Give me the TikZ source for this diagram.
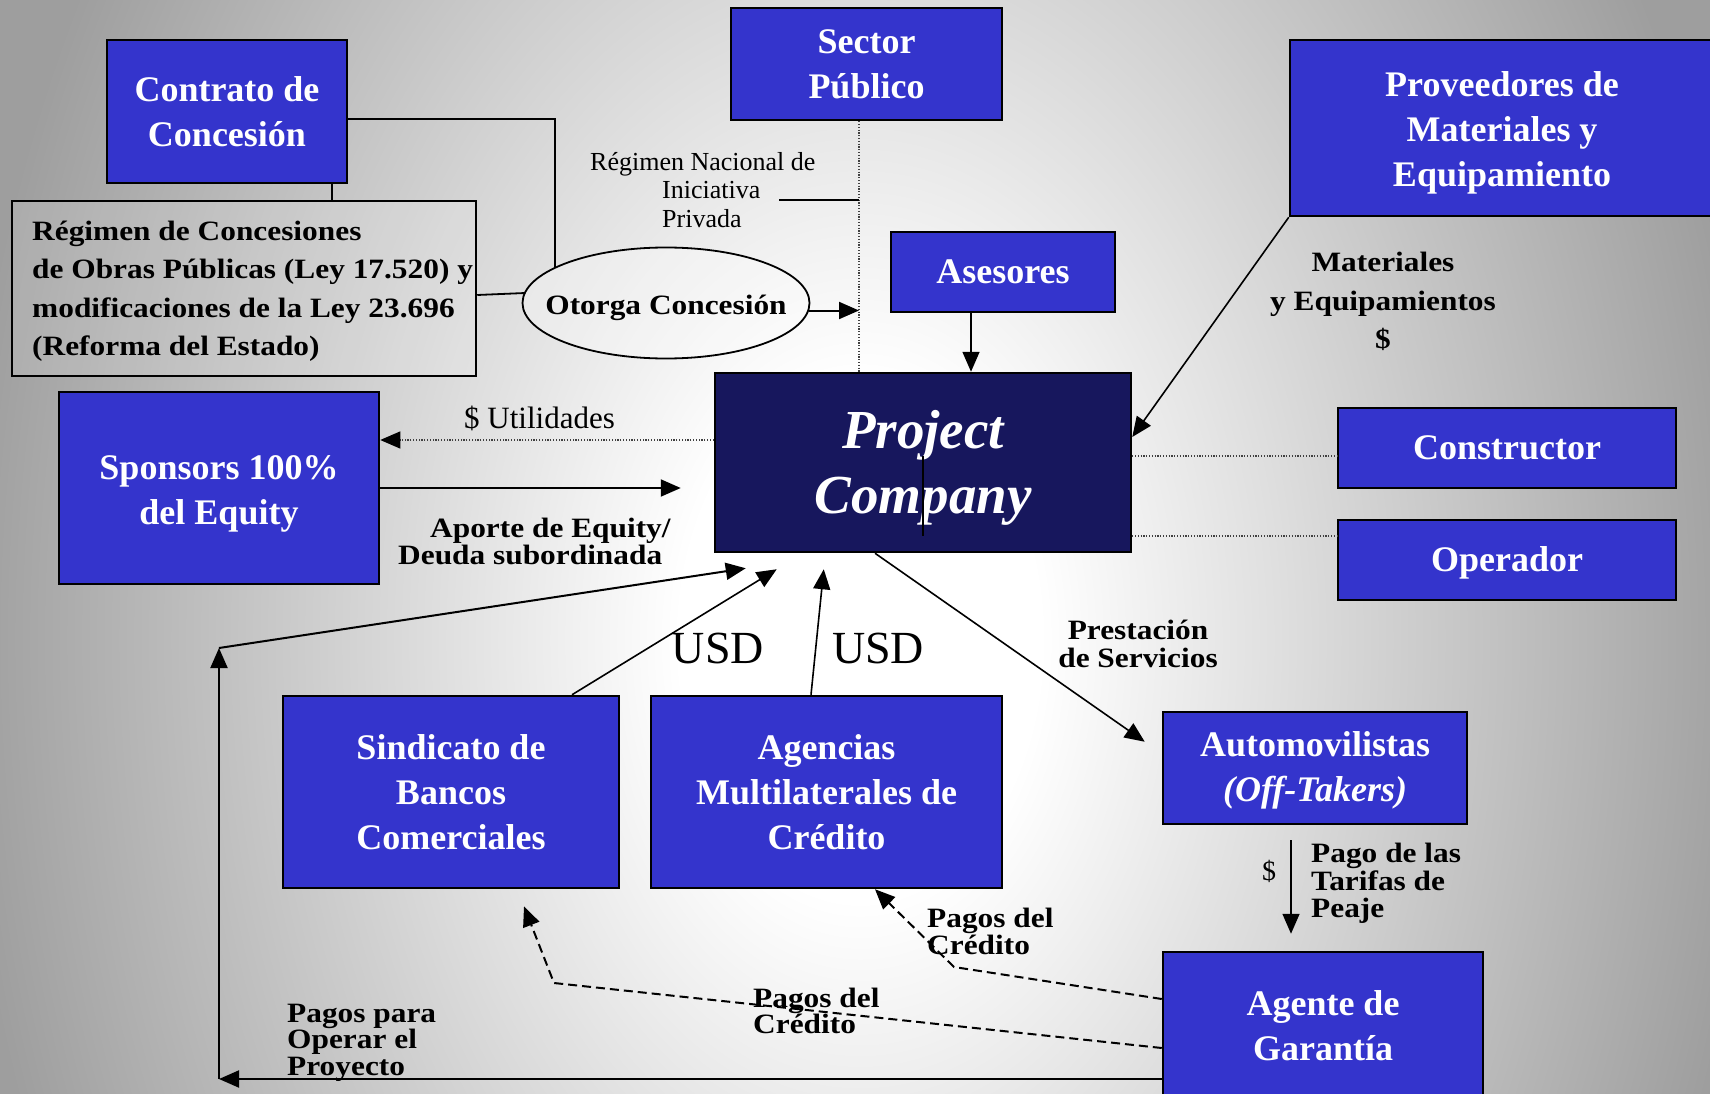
\documentclass[tikz,border=0pt]{standalone}
\usepackage{fontspec}
\setmainfont{Liberation Serif}
\newfontfamily\labfont{Liberation Serif}[FakeStretch=1.12]
\usetikzlibrary{arrows.meta,shapes.geometric,calc}
\definecolor{boxblue}{RGB}{52,52,204}
\definecolor{pcnavy}{RGB}{23,23,93}
\definecolor{bgouter}{gray}{0.62}
\pgfdeclareradialshading{bgshade}{\pgfpoint{0bp}{0bp}}{color(0bp)=(white); color(5bp)=(white); color(25bp)=(bgouter); color(50bp)=(bgouter)}
\begin{document}
\lineskiplimit=-100pt
\begin{tikzpicture}[x=1pt,y=-1pt,
  bluebox/.style={draw=black, line width=2.5pt, fill=boxblue, text=white,
    font=\fontsize{36}{45}\selectfont\bfseries, align=center, inner sep=0pt},
  graybox/.style={draw=black, line width=2.5pt, fill=white, fill opacity=0.14, text opacity=1, inner sep=0pt},
  lbl/.style={font=\labfont\bfseries\fontsize{28}{27.5}\selectfont, inner sep=0pt, text=black},
  reg/.style={inner sep=0pt, text=black},
  arr/.style={line width=2pt, -{Triangle[length=20pt,width=17pt]}},
  thinarr/.style={line width=1.6pt, -{Triangle[length=20pt,width=17pt]}},
  dotline/.style={line width=1.2pt, black!75, dash pattern=on 1.2pt off 1.6pt},
  dotarr/.style={dotline, -{Triangle[length=20pt,width=17pt,color=black]}},
  dasharr/.style={line width=2pt, dash pattern=on 9pt off 5pt, -{Triangle[length=20pt,width=17pt]}},
  conn/.style={line width=1.8pt}
]
\useasboundingbox (0,0) rectangle (1710,1094);
\clip (0,0) rectangle (1710,1094);
\shade[shading=bgshade] (-40,-660) rectangle (1760,1940);

% boxes
\node[bluebox, minimum width=240pt, minimum height=143pt] (contrato) at (227,111.5) {Contrato de\\Concesión};
\node[bluebox, minimum width=271pt, minimum height=112pt] (sector) at (866.5,64) {Sector\\Público};
\node[bluebox, minimum width=424pt, minimum height=176pt] (prov) at (1502,128) {\rule{0pt}{34pt}Proveedores de\\Materiales y\\Equipamiento};
\node[bluebox, minimum width=224pt, minimum height=80pt] (asesores) at (1003,272) {Asesores};
\node[bluebox, fill=pcnavy, minimum width=416pt, minimum height=179pt,
  font=\fontsize{55}{65}\selectfont\bfseries\itshape] (pc) at (923,462.5) {\rule{0pt}{48pt}Project\\Company};
\node[bluebox, minimum width=320pt, minimum height=192pt] (sponsors) at (219,488) {\rule{0pt}{36pt}Sponsors 100\%\\del Equity};
\node[bluebox, minimum width=338pt, minimum height=80pt] (constructor) at (1507,448) {Constructor};
\node[bluebox, minimum width=338pt, minimum height=80pt] (operador) at (1507,560) {\rule{0pt}{30pt}Operador};
\node[bluebox, minimum width=336pt, minimum height=192pt] (sind) at (451,792) {Sindicato de\\Bancos\\Comerciales};
\node[bluebox, minimum width=351pt, minimum height=192pt] (agencias) at (826.5,792) {Agencias\\Multilaterales de\\Crédito};
\node[bluebox, minimum width=304pt, minimum height=112pt, font=\fontsize{36}{45}\selectfont\bfseries] (autom) at (1315,768) {\rule{0pt}{30pt}Automovilistas\\{\itshape (Off-Takers)}};
\node[bluebox, minimum width=320pt, minimum height=148pt] (agente) at (1323,1026) {Agente de\\Garantía};

\node[graybox, minimum width=464pt, minimum height=175pt] (regimen) at (244,288.5) {};
\node[lbl, font=\labfont\bfseries\fontsize{28}{38.5}\selectfont, align=left, anchor=west] (regimentext) at (32,291.5)
  {Régimen de Concesiones\\de Obras Públicas (Ley 17.520) y\\modificaciones de la Ley 23.696\\(Reforma del Estado)};

\node[ellipse, draw=black, line width=1.8pt, fill=white, fill opacity=0.3, minimum width=287pt, minimum height=111pt, inner sep=0pt] (otorga) at (666,303) {};
\node[lbl] (otorgatext) at ([yshift=-5pt]otorga.center) {Otorga Concesión};

% labels
\node[reg, font=\fontsize{26}{28.5}\selectfont, align=left, anchor=west] (rnip) at (590,190) {Régimen Nacional de\\\hspace*{72pt}Iniciativa\\\hspace*{72pt}Privada};
\node[lbl, font=\labfont\bfseries\fontsize{28}{38.5}\selectfont, align=center] (mat) at (1383,301.5) {Materiales\\y Equipamientos\\\$};
\node[reg, font=\fontsize{31}{36}\selectfont, anchor=base] (util) at (539.5,428) {\$ Utilidades};
\node[lbl, font=\labfont\bfseries\fontsize{28}{27}\selectfont, align=left, anchor=west] (aporte) at (398,541) {\hspace*{32pt}Aporte de Equity/\\Deuda subordinada};
\node[reg, font=\fontsize{46}{50}\selectfont, anchor=base] (usd1) at (718,663) {USD};
\node[reg, font=\fontsize{46}{50}\selectfont, anchor=base] (usd2) at (878,663) {USD};
\node[lbl, font=\labfont\bfseries\fontsize{28}{28}\selectfont, align=center] (prest) at (1138,644) {Prestación\\de Servicios};
\node[lbl, font=\labfont\bfseries\fontsize{28}{27}\selectfont, align=left, anchor=west] (pagos1) at (927,931.5) {Pagos del\\Crédito};
\node[lbl, font=\labfont\bfseries\fontsize{28}{26}\selectfont, align=left, anchor=west] (pagos2) at (753,1011) {Pagos del\\Crédito};
\node[lbl, font=\labfont\bfseries\fontsize{28}{26.5}\selectfont, align=left, anchor=west] (pagosop) at (287,1042.5) {Pagos para\\Operar el\\Proyecto};
\node[lbl, font=\labfont\bfseries\fontsize{28}{27.5}\selectfont, align=left, anchor=west] (peaje) at (1311,883.5) {Pago de las\\Tarifas de\\Peaje};
\node[reg, font=\fontsize{28}{30}\selectfont, anchor=base] (dollar) at (1269,880) {\$};

% connectors
\draw[conn] ([xshift=-16pt]contrato.south east) -- ([xshift=-16pt]contrato.south east |- regimen.north);
\draw[conn] ([yshift=-7.5pt]contrato.east) -| (otorga.162.5);
\draw[conn] ([yshift=-6.5pt]regimen.east) -- (otorga.176.8);
\coordinate (dl) at ([xshift=-7.5pt]sector.south);
\draw[dotline] (dl) -- (dl |- pc.north);
\draw[arr] (otorga.-3.6) -- (otorga.-3.6 -| dl);
\coordinate (rnipend) at (779,200);
\draw[conn] (rnipend) -- (rnipend -| dl);
\draw[thinarr] ([xshift=-32pt]asesores.south) -- ([xshift=-32pt]asesores.south |- pc.north);
\draw[thinarr] (prov.south west) -- ([yshift=25.5pt]pc.east);
\draw[dotarr] ([yshift=22.5pt]pc.west) -- ([yshift=22.5pt]pc.west -| sponsors.east);
\draw[arr] (sponsors.east) -- ([xshift=-33pt]sponsors.east -| pc.west);
\draw[dotline] ([yshift=6.5pt]pc.east) -- ([yshift=6.5pt]pc.east -| constructor.west);
\draw[dotline] ([yshift=-73.5pt]pc.east) -- ([yshift=-73.5pt]pc.east -| operador.west);
\draw[thinarr] ([xshift=-48pt]pc.south) -- ([xshift=-17pt,yshift=-31pt]autom.north west);
\draw[thinarr] ([xshift=121pt]sind.north) -- ([xshift=63pt,yshift=-16pt]pc.south west);
\draw[thinarr] ([xshift=-15.5pt]agencias.north) -- ([xshift=110pt,yshift=-16pt]pc.south west);
\coordinate (cb) at ([yshift=-53pt]agente.west -| 219,0);
\coordinate (ct) at (219,648);
\draw[arr] ([yshift=-53pt]agente.west) -- (cb);
\draw[arr] (cb) -- (ct);
\draw[arr] (ct) -- ([xshift=32pt,yshift=-15pt]pc.south west);
\draw[thinarr] ([xshift=-24pt,yshift=-15pt]autom.south) -- ([xshift=-32pt,yshift=17pt]agente.north);
\coordinate (k1) at (954,967);
\coordinate (k2) at (554,983);
\draw[dasharr] ([yshift=27pt]agente.west) -- (k1) -- ([xshift=48.5pt]agencias.south);
\draw[dasharr] ([yshift=-22pt]agente.west) -- (k2) -- ([xshift=73pt,yshift=-17pt]sind.south);

% stray line inside project company
\draw[line width=2pt] ([yshift=6.5pt]pc.center) -- ([yshift=-73.5pt]pc.center);
\end{tikzpicture}
\end{document}
